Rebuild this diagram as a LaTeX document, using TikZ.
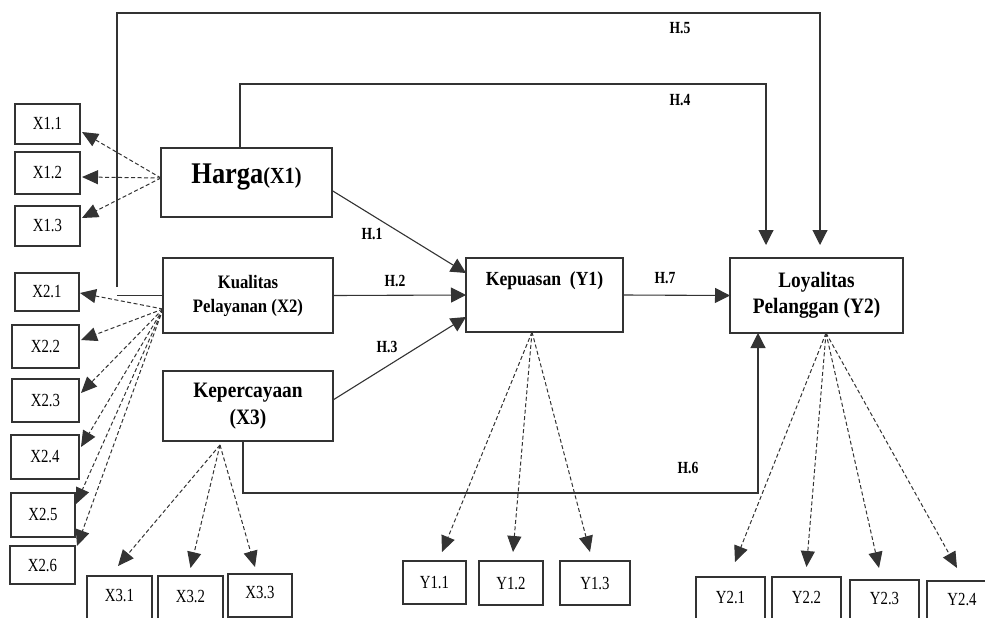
\documentclass[tikz,border=0pt]{standalone}
\usepackage{fontspec}
\setmainfont{Liberation Serif}
\newfontfamily\indfont{Liberation Serif}[FakeStretch=0.8]
\newfontfamily\labfont{Liberation Serif}[FakeStretch=0.88]
\usetikzlibrary{arrows.meta,calc}
\begin{document}
\begin{tikzpicture}[x=1pt,y=-1pt,
  line/.style={draw=black!80, line width=1.1pt},
  tip/.style={-{Triangle[length=15pt,width=15pt]}},
  dsh/.style={draw=black!80, line width=1pt, dash pattern=on 4pt off 2.5pt, -{Triangle[length=16pt,width=14pt]}},
  box/.style={draw=black!80, line width=1.1pt, inner sep=0pt, outer sep=0pt, fill=white},
  ind/.style={box, font=\indfont\fontsize{18.5}{20}\selectfont},
  lat/.style={box, font=\labfont\bfseries\fontsize{19}{24}\selectfont, align=center},
  latb/.style={box, font=\labfont\bfseries\fontsize{20}{24}\selectfont},
  hl/.style={font=\indfont\bfseries\fontsize{17}{19}\selectfont, inner sep=0pt}
]
\useasboundingbox (0,0) rectangle (985,618);

% indicator boxes X1
\node[ind, minimum width=65pt, minimum height=40pt] (x11) at (47.5,124) {X1.1};
\node[ind, minimum width=65pt, minimum height=42pt] (x12) at (47.5,173) {X1.2};
\node[ind, minimum width=65pt, minimum height=40pt] (x13) at (47.5,226) {X1.3};
% indicator boxes X2
\node[ind, minimum width=64pt, minimum height=38pt] (x21) at (47,292) {X2.1};
\node[ind, minimum width=67pt, minimum height=43pt] (x22) at (45.5,346.5) {X2.2};
\node[ind, minimum width=67pt, minimum height=43pt] (x23) at (45.5,400.5) {X2.3};
\node[ind, minimum width=68pt, minimum height=44pt] (x24) at (45,457) {X2.4};
\node[ind, minimum width=64pt, minimum height=44pt] (x25) at (43,515) {X2.5};
\node[ind, minimum width=65pt, minimum height=38pt] (x26) at (42.5,565) {X2.6};
% indicator boxes X3
\node[ind, minimum width=65pt, text height=25pt, text depth=25pt, anchor=north] (x31) at (119.5,576) {X3.1};
\node[ind, minimum width=65pt, text height=26pt, text depth=25pt, anchor=north] (x32) at (190.5,576) {X3.2};
\node[ind, minimum width=64pt, text height=24pt, text depth=19pt, anchor=north] (x33) at (260,574) {X3.3};
% indicator boxes Y1
\node[ind, minimum width=63pt, minimum height=43pt] (y11) at (434.5,582.5) {Y1.1};
\node[ind, minimum width=64pt, minimum height=44pt] (y12) at (511,583) {Y1.2};
\node[ind, minimum width=70pt, minimum height=44pt] (y13) at (595,583) {Y1.3};
% indicator boxes Y2
\node[ind, minimum width=69pt, text height=26pt, text depth=30pt, anchor=north] (y21) at (730.5,577) {Y2.1};
\node[ind, minimum width=69pt, text height=26pt, text depth=30pt, anchor=north] (y22) at (806.5,577) {Y2.2};
\node[ind, minimum width=69pt, text height=24pt, text depth=30pt, anchor=north] (y23) at (884.5,580) {Y2.3};
\node[ind, minimum width=70pt, text height=24pt, text depth=30pt, anchor=north] (y24) at (962,581) {Y2.4};

% latent variables
\node[box, minimum width=171pt, text height=35pt, text depth=34pt, anchor=base] (harga) at (246.5,183)
  {\labfont\bfseries\fontsize{30}{32}\selectfont Harga\fontsize{23}{26}\selectfont(X1)};
\node[lat, minimum width=170pt, minimum height=75pt] (kual) at (248,295.5) {Kualitas\\Pelayanan (X2)};
\node[lat, minimum width=170pt, minimum height=70pt, font=\labfont\bfseries\fontsize{22}{27}\selectfont] (kepc) at (248,406) {Kepercayaan\\(X3)};
\node[latb, minimum width=157pt, text height=27pt, text depth=47pt, anchor=base] (kep) at (544.5,285) {Kepuasan~~(Y1)};
\node[lat, minimum width=173pt, minimum height=75pt, font=\labfont\bfseries\fontsize{22}{26}\selectfont] (loy) at (816.5,295.5) {Loyalitas\\Pelanggan (Y2)};

% structural paths
\draw[line,tip] ([yshift=-8pt]harga.east) -- ([yshift=22pt]kep.west);
\draw[line,tip] (kual.east) -- (kep.west);
\draw[line,tip] ([yshift=6pt]kepc.east) -- ([yshift=-22pt]kep.west);
\draw[line,tip] (kep.east) -- (loy.west);
\draw[line,tip] ([xshift=-6.5pt]harga.north) -- ++(0,-64) -| ([xshift=-50.5pt,yshift=13pt]loy.north);
\coordinate (h5s) at (117,287);
\coordinate (h5e) at (117,295.5);
\coordinate (h5top) at (820,13);
\draw[line] (kual.west) -- (h5e);
\draw[line,tip] (h5s) |- (h5top) -- ([xshift=3.5pt,yshift=13pt]loy.north);
\draw[line,tip] ([xshift=-5pt]kepc.south) -- ++(0,52) -| ([xshift=-58.5pt]loy.south);

% hypothesis labels
\node[hl] (h1) at (372,234) {H.1};
\node[hl] (h2) at (395,281) {H.2};
\node[hl] (h3) at (387,347) {H.3};
\node[hl] (h4) at (680,100) {H.4};
\node[hl] (h5) at (680,28) {H.5};
\node[hl] (h6) at (688,468) {H.6};
\node[hl] (h7) at (665,278) {H.7};

% measurement arrows X1
\draw[dsh] ([yshift=4.5pt]harga.west) -- ([xshift=2pt,yshift=-8pt]x11.east);
\draw[dsh] ([yshift=4.5pt]harga.west) -- ([xshift=2pt,yshift=-4pt]x12.east);
\draw[dsh] ([yshift=4.5pt]harga.west) -- ([xshift=2pt,yshift=8pt]x13.east);
% X2
\draw[dsh] ([yshift=-13.5pt]kual.west) -- ([xshift=1pt,yshift=-1pt]x21.east);
\draw[dsh] ([yshift=-13.5pt]kual.west) -- ([xshift=2pt,yshift=6.5pt]x22.east);
\draw[dsh] ([yshift=-13.5pt]kual.west) -- ([xshift=2pt,yshift=7.5pt]x23.east);
\draw[dsh] ([yshift=-13.5pt]kual.west) -- ([xshift=2pt,yshift=10pt]x24.east);
\draw[dsh] ([yshift=-13.5pt]kual.west) -- ([xshift=1pt,yshift=11pt]x25.east);
\draw[dsh] ([yshift=-13.5pt]kual.west) -- ([xshift=2pt]x26.north east);
% X3
\draw[dsh] ([xshift=-28pt,yshift=-4pt]kepc.south) -- ([xshift=-1.5pt,yshift=10pt]x31.north);
\draw[dsh] ([xshift=-28pt,yshift=-4pt]kepc.south) -- ([yshift=8pt]x32.north);
\draw[dsh] ([xshift=-28pt,yshift=-4pt]kepc.south) -- ([xshift=-5pt,yshift=7pt]x33.north);
% Y1
\draw[dsh] ([xshift=-12.5pt]kep.south) -- ([xshift=7.5pt,yshift=9pt]y11.north);
\draw[dsh] ([xshift=-12.5pt]kep.south) -- ([xshift=2pt,yshift=9pt]y12.north);
\draw[dsh] ([xshift=-12.5pt]kep.south) -- ([xshift=-5pt,yshift=9pt]y13.north);
% Y2
\draw[dsh] ([xshift=9.5pt]loy.south) -- ([xshift=4.5pt,yshift=15pt]y21.north);
\draw[dsh] ([xshift=9.5pt]loy.south) -- ([yshift=10pt]y22.north);
\draw[dsh] ([xshift=9.5pt]loy.south) -- ([xshift=-5.5pt,yshift=12pt]y23.north);
\draw[dsh] ([xshift=9.5pt]loy.south) -- ([xshift=-5pt,yshift=13pt]y24.north);
\end{tikzpicture}
\end{document}
